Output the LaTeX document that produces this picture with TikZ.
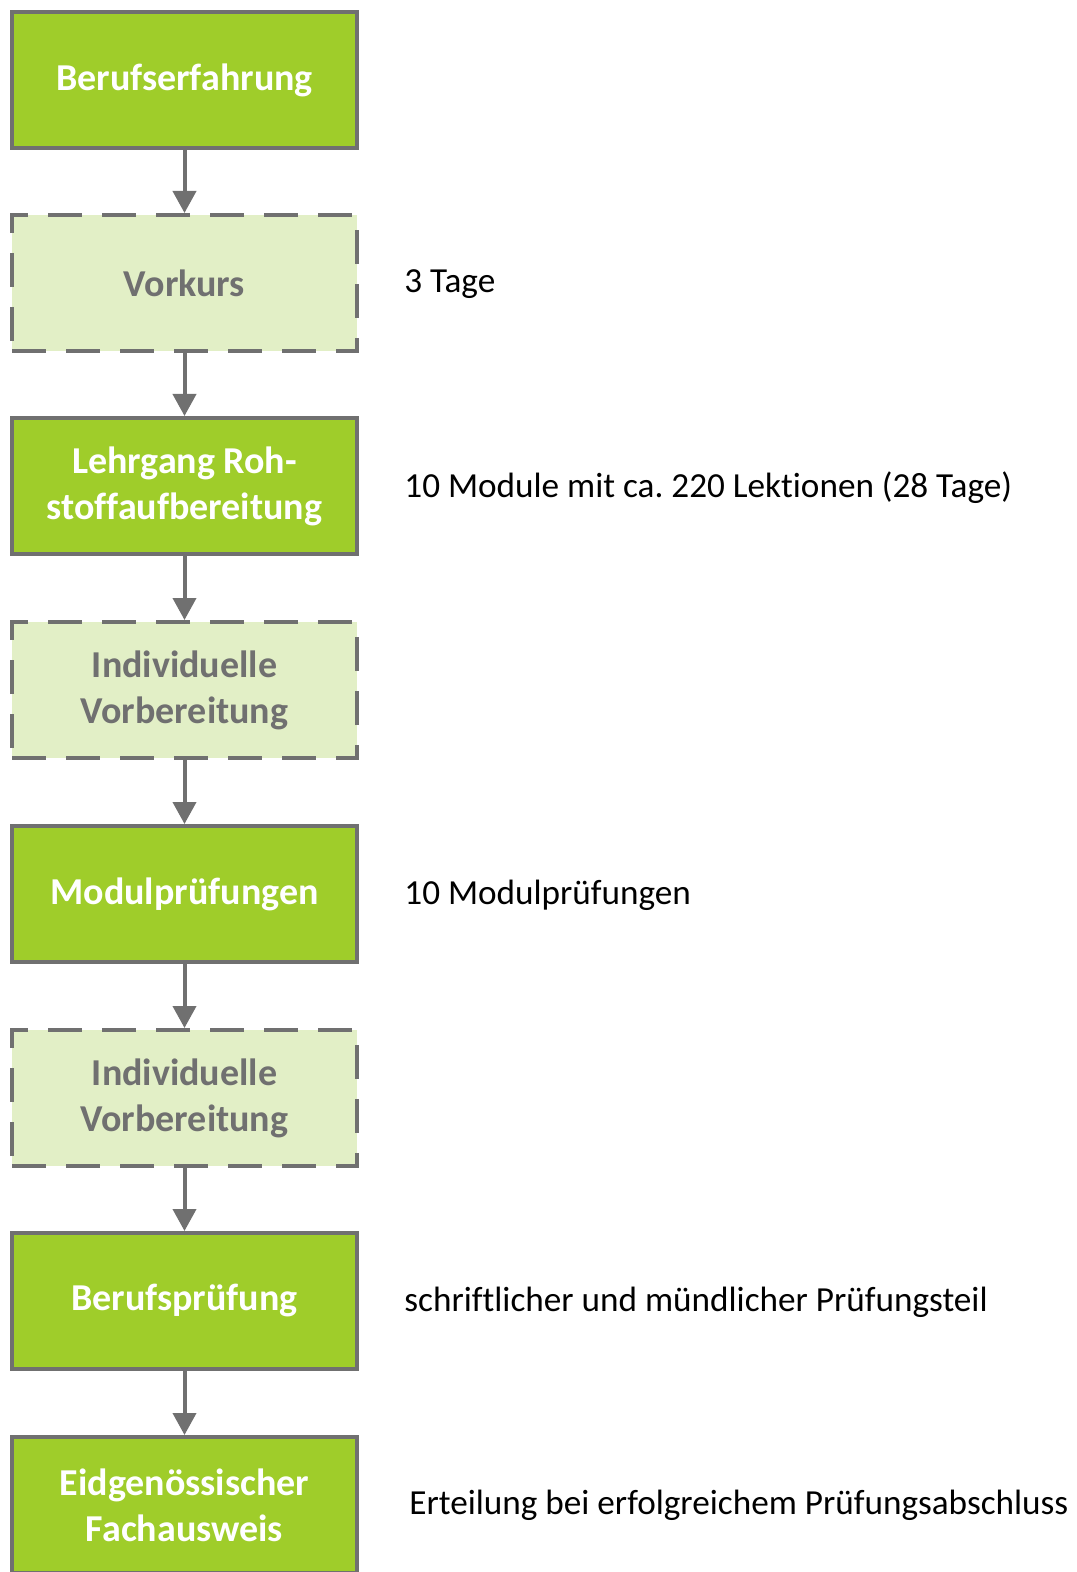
\documentclass[tikz,border=0pt]{standalone}
\usepackage{fontspec}
\setmainfont{Carlito}[Ligatures=CommonOff]
\usetikzlibrary{arrows.meta}

\definecolor{stepgreen}{RGB}{159,205,42}
\definecolor{steplight}{RGB}{226,239,198}
\definecolor{stepgray}{RGB}{112,112,112}

\tikzset{
  mainbox/.style={draw=stepgray, line width=2pt, fill=stepgreen, text=white,
    minimum width=172.5pt, minimum height=68pt, align=center,
    font=\fontsize{19}{23}\selectfont\bfseries},
  optbox/.style={mainbox, dash pattern=on 17pt off 10pt, fill=steplight, text=stepgray},
  note/.style={anchor=west, inner sep=0pt, font=\fontsize{17.6}{21}\selectfont},
  arr/.style={draw=stepgray, line width=2pt, -{Triangle[width=11.5pt,length=11pt]}}
}

\begin{document}
\frenchspacing
\begin{tikzpicture}[x=0.5pt, y=-0.5pt]

\def\bx{184.5}
\def\nx{404}

\path [use as bounding box] (0,0) rectangle (1076,1572);

% STEPS
\node [mainbox] (beruf)   at (\bx,80)   {Berufserfahrung};
\node [optbox]  (vorkurs) at (\bx,283)  {Vorkurs};
\node [mainbox] (lehr)    at (\bx,486)  {Lehrgang Roh-\\stoffaufbereitung};
\node [optbox]  (vorb1)   at (\bx,690)  {Individuelle\\Vorbereitung};
\node [mainbox] (modul)   at (\bx,894)  {Modulprüfungen};
\node [optbox]  (vorb2)   at (\bx,1098) {Individuelle\\Vorbereitung};
\node [mainbox] (bp)      at (\bx,1301) {Berufsprüfung};
\node [mainbox] (fa)      at (\bx,1505) {Eidgenössischer\\Fachausweis};

% ARROWS
\foreach \a/\b in {beruf/vorkurs, vorkurs/lehr, lehr/vorb1, vorb1/modul,
                   modul/vorb2, vorb2/bp, bp/fa}
  \draw [arr] (\a) -- (\b);

% NOTES
\node [note] (nvorkurs) at (\nx,284)  {3 Tage};
\node [note] (nlehr)    at (\nx,488)  {10 Module mit ca. 220 Lektionen (28 Tage)};
\node [note] (nmodul)   at (\nx,895)  {10 Modulprüfungen};
\node [note] (nbp)      at (\nx,1302) {schriftlicher und mündlicher Prüfungsteil};
\node [note] (nfa)      at (409,1505) {Erteilung bei erfolgreichem Prüfungsabschluss};

\end{tikzpicture}
\end{document}
